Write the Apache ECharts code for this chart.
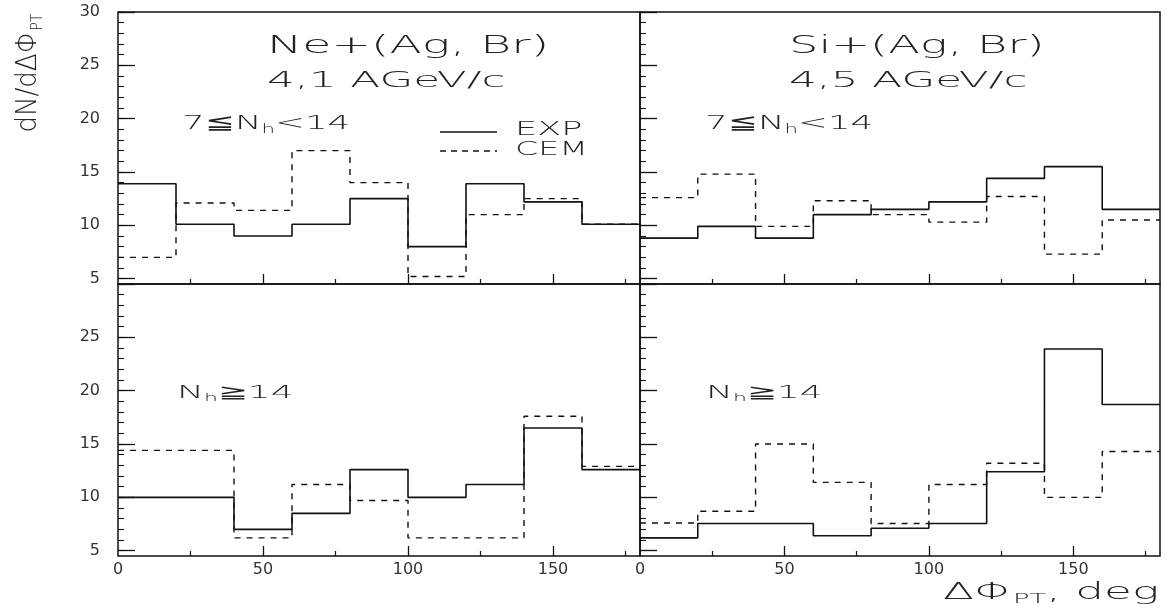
<!DOCTYPE html>
<html><head><meta charset="utf-8">
<script src="https://cdn.jsdelivr.net/npm/echarts@6/dist/echarts.min.js"></script>
<style>html,body{margin:0;padding:0;background:#fff}#c{width:1167px;height:609px}</style>
</head><body><div id="c"></div>
<script>
// ---- data ----
const binEdges = [0, 20, 40, 60, 80, 100, 120, 140, 160, 180];
const neMidExp  = [13.9, 10.1, 9.0, 10.1, 12.5, 8.0, 13.9, 12.2, 10.1];
const neMidCem  = [7.0, 12.1, 11.4, 17.0, 14.0, 5.2, 11.0, 12.5, 10.1];
const siMidExp  = [8.8, 9.9, 8.8, 11.0, 11.5, 12.2, 14.4, 15.5, 11.5];
const siMidCem  = [12.6, 14.8, 9.9, 12.3, 11.0, 10.3, 12.7, 7.3, 10.5];
const neHighExp = [10.0, 10.0, 7.0, 8.5, 12.6, 10.0, 11.2, 16.5, 12.6];
const neHighCem = [14.4, 14.4, 6.2, 11.2, 9.7, 6.2, 6.2, 17.6, 12.9];
const siHighExp = [6.2, 7.55, 7.55, 6.4, 7.1, 7.55, 12.4, 23.9, 18.7];
const siHighCem = [7.6, 8.7, 15.0, 11.4, 7.55, 11.2, 13.2, 10.0, 14.3];
const xTickLabels = [0, 50, 100, 150];
const xMajorTicks = [50, 100, 150];
const xMinorTicks = [25, 75, 125, 175];
const yTickLabelsTop = [5, 10, 15, 20, 25, 30];
const yTickLabelsBottom = [5, 10, 15, 20, 25];
const yMajorTicks = [5, 10, 15, 20, 25, 30];
const yMinorTicks = [5, 6, 7, 8, 9, 10, 11, 12, 13, 14, 15, 16, 17, 18, 19, 20, 21, 22, 23, 24, 25, 26, 27, 28, 29, 30];
const panelTitles = ['Ne+(Ag, Br)', 'Si+(Ag, Br)'];
const panelEnergies = ['4,1 AGeV/c', '4,5 AGeV/c'];
const seriesNames = ['EXP', 'CEM'];

// ---- helpers ----
function hist(vals) {
  const d = vals.map((v, i) => [binEdges[i], v]);
  d.push([binEdges[binEdges.length - 1], vals[vals.length - 1]]);
  return d;
}
const FONT = 'DejaVu Sans';
const INK = '#111';
const TXT = '#222';

const grids = [
  {left: 118, top: 12, width: 522, height: 272},
  {left: 640, top: 12, width: 520, height: 272},
  {left: 118, top: 284, width: 522, height: 272},
  {left: 640, top: 284, width: 520, height: 272}
].map(g => Object.assign(g, {show: true, borderColor: INK, borderWidth: 1.5, backgroundColor: 'transparent', containLabel: false}));

const xAxis = [], yAxis = [];
for (let g = 0; g < 4; g++) {
  const bottom = g >= 2, left = g % 2 === 0;
  xAxis.push({
    gridIndex: g, type: 'value', min: 0, max: 180, position: 'bottom',
    axisLine: {show: false, onZero: false}, splitLine: {show: false},
    axisTick: {show: true, inside: true, length: 10, customValues: xMajorTicks, lineStyle: {color: INK, width: 1.3}},
    axisLabel: {show: bottom, customValues: xTickLabels, margin: 6, color: '#333', fontFamily: FONT, fontSize: 16}
  });
  xAxis.push({
    gridIndex: g, type: 'value', min: 0, max: 180, position: 'bottom',
    axisLine: {show: false, onZero: false}, splitLine: {show: false},
    axisTick: {show: true, inside: true, length: 5, customValues: xMinorTicks, lineStyle: {color: INK, width: 1.2}},
    axisLabel: {show: false}
  });
  yAxis.push({
    gridIndex: g, type: 'value', min: 4.5, max: 30, position: 'left',
    axisLine: {show: false, onZero: false}, splitLine: {show: false},
    axisTick: {show: true, inside: true, length: 17, customValues: yMajorTicks, lineStyle: {color: INK, width: 1.3}},
    axisLabel: {show: left, customValues: bottom ? yTickLabelsBottom : yTickLabelsTop, margin: 18, color: '#333', fontFamily: FONT, fontSize: 16}
  });
  yAxis.push({
    gridIndex: g, type: 'value', min: 4.5, max: 30, position: 'left',
    axisLine: {show: false, onZero: false}, splitLine: {show: false},
    axisTick: {show: true, inside: true, length: 6, customValues: yMinorTicks, lineStyle: {color: INK, width: 1.1}},
    axisLabel: {show: false}
  });
}

const panelData = [[neMidExp, neMidCem], [siMidExp, siMidCem], [neHighExp, neHighCem], [siHighExp, siHighCem]];
const series = [];
panelData.forEach((pair, g) => {
  pair.forEach((vals, k) => {
    series.push({
      name: seriesNames[k], type: 'line', step: 'end', symbol: 'none',
      xAxisIndex: g * 2, yAxisIndex: g * 2, data: hist(vals), z: k === 0 ? 3 : 2,
      lineStyle: {color: INK, width: k === 0 ? 1.6 : 1.4, type: k === 0 ? 'solid' : [6, 6]},
      animation: false
    });
  });
});

function txt(x, y, text, size, sx, extra) {
  return {
    type: 'text', x: x, y: y, scaleX: sx, z: 10,
    style: Object.assign({
      text: text, fontFamily: FONT, fontSize: size, fontWeight: 'lighter', fill: TXT,
      align: 'left', verticalAlign: 'middle'
    }, extra || {})
  };
}
function nhRich(size) {
  return {rich: {
    n: {fontFamily: FONT, fontSize: size, fontWeight: 'lighter', fill: TXT, verticalAlign: 'bottom'},
    s: {fontFamily: FONT, fontSize: Math.round(size * 0.6), fontWeight: 'lighter', fill: TXT, verticalAlign: 'bottom', padding: [0, 0, -2, 0]}
  }};
}

const graphic = [
  txt(267, 47, panelTitles[0], 24, 1.97),
  txt(267, 82, panelEnergies[0], 21, 2.08),
  txt(789, 47, panelTitles[1], 24, 1.93),
  txt(789, 82, panelEnergies[1], 21, 2.08),
  txt(182, 124, '{n|7≦N}{s|h}{n|<14}', 20, 1.78, nhRich(20)),
  txt(705, 124, '{n|7≦N}{s|h}{n|<14}', 20, 1.78, nhRich(20)),
  txt(177, 393, '{n|N}{s|h}{n|≧14}', 18, 2.0, nhRich(18)),
  txt(706, 393, '{n|N}{s|h}{n|≧14}', 18, 2.0, nhRich(18)),
  txt(515, 130, seriesNames[0], 19, 1.85),
  txt(515, 150, seriesNames[1], 19, 1.75),
  {type: 'line', z: 10, shape: {x1: 440, y1: 132, x2: 497, y2: 132}, style: {stroke: INK, lineWidth: 1.5}},
  {type: 'line', z: 10, shape: {x1: 440, y1: 151, x2: 497, y2: 151}, style: {stroke: INK, lineWidth: 1.3, lineDash: [6, 5]}},
  txt(943, 593, '{n|ΔΦ}{s|PT}{n|, deg}', 23, 1.97, nhRich(23)),
  {type: 'text', x: 28, y: 73, rotation: Math.PI / 2, scaleX: 0.9, z: 10,
   style: {text: '{n|dN/dΔΦ}{s|PT}', align: 'center', verticalAlign: 'middle', fill: TXT,
           rich: {n: {fontFamily: FONT, fontSize: 29, fontWeight: 'lighter', fill: TXT, verticalAlign: 'bottom'},
                  s: {fontFamily: FONT, fontSize: 16, fontWeight: 'lighter', fill: TXT, verticalAlign: 'bottom', padding: [0, 0, -3, 0]}}}}
];

const chart = echarts.init(document.getElementById('c'), null, {renderer: 'canvas'});
chart.setOption({
  animation: false,
  backgroundColor: '#fff',
  grid: grids, xAxis: xAxis, yAxis: yAxis, series: series, graphic: graphic
});
</script>
</body></html>
